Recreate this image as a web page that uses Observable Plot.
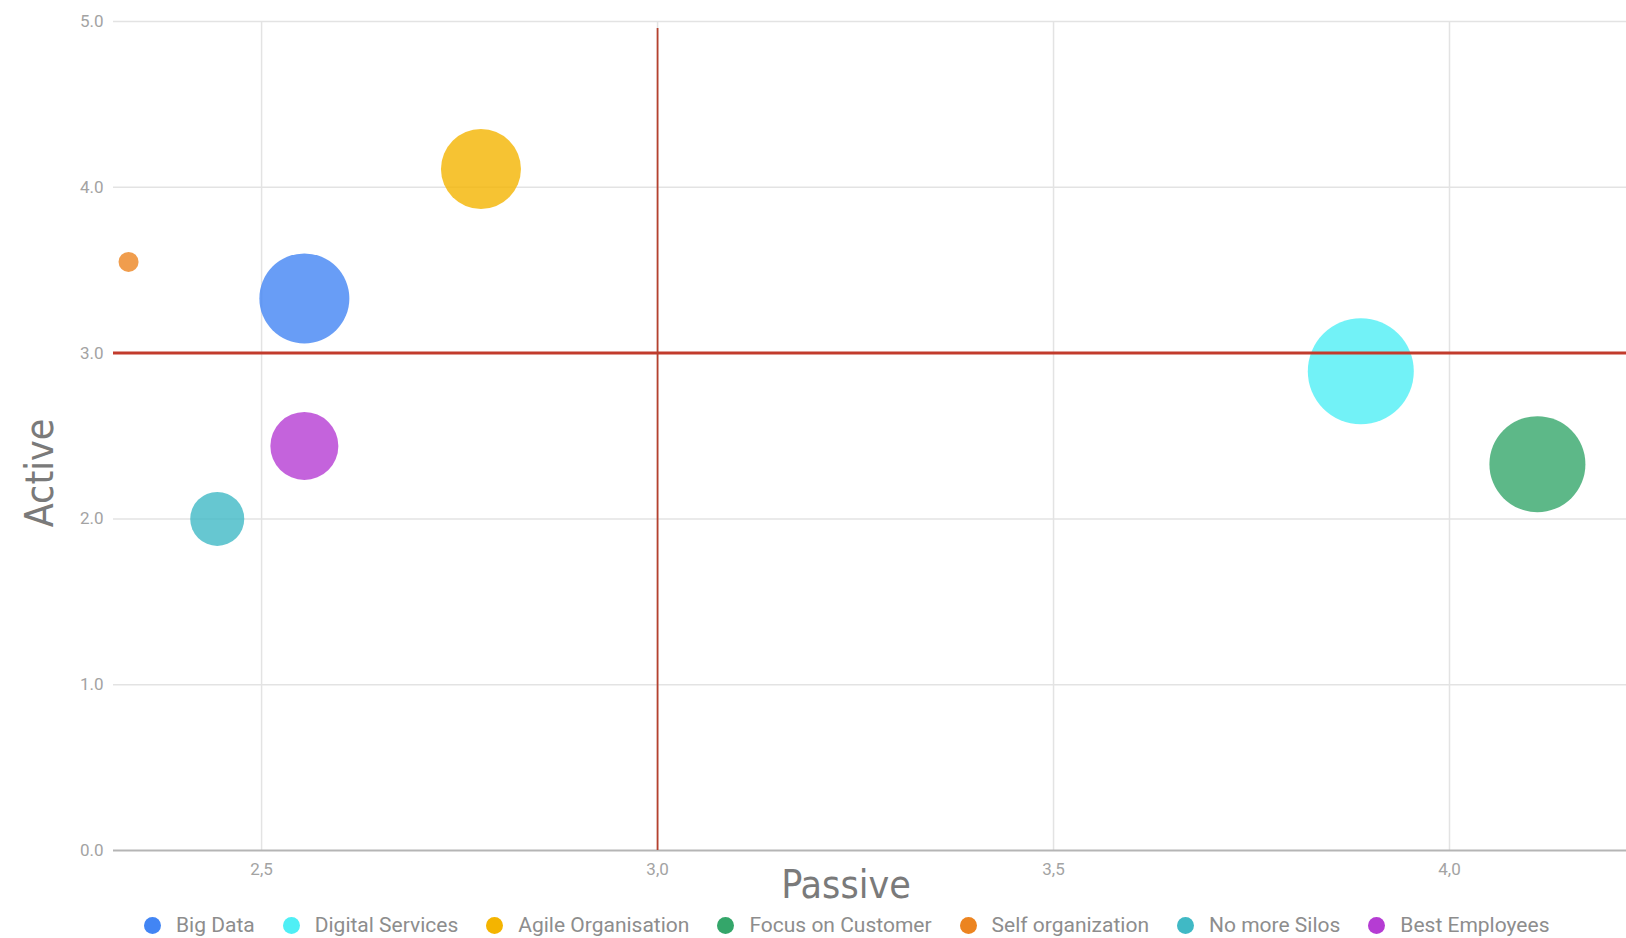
<!DOCTYPE html>
<html>
<head>
<meta charset="utf-8">
<script src="https://cdn.jsdelivr.net/npm/d3@7"></script>
<script src="https://cdn.jsdelivr.net/npm/@observablehq/plot@0.6"></script>
<style>
  html, body { margin: 0; padding: 0; background: #fff; overflow: hidden; }
  #chart svg { display: block; }
  #legend { display: flex; align-items: center; height: 30px; padding-top: 5px; padding-left: 144px;
            font-family: Roboto, sans-serif; font-size: 21px; color: #8d8d8d; white-space: nowrap; }
  .item { display: flex; align-items: center; margin-right: 28px; }
  .dot { width: 17px; height: 17px; border-radius: 50%; margin-right: 15px; flex: none; }
</style>
</head>
<body>
<div id="chart"></div>
<div id="legend"></div>
<script>
// ---- data ----
const names   = ["Big Data", "Digital Services", "Agile Organisation", "Focus on Customer", "Self organization", "No more Silos", "Best Employees"];
const passive = [2.554, 3.888, 2.777, 4.111, 2.332, 2.444, 2.554];
const active  = [3.33, 2.89, 4.11, 2.33, 3.55, 2.00, 2.44];
const bubble  = [45, 53, 40, 48, 10, 27, 34];
const colors  = ["#4285F4", "#4FEFF5", "#F4B400", "#34A66A", "#EC8420", "#40B9C5", "#B53CD3"];
const xTicks  = [2.5, 3.0, 3.5, 4.0];
const yTicks  = [0, 1, 2, 3, 4, 5];
const passiveThreshold = [3.0];
const activeThreshold  = [3.0];
const xDomain = [2.313, 4.2235];
const yDomain = [0, 5];

const data = names.map((n, i) => ({name: n, passive: passive[i], active: active[i], size: bubble[i]}));

const titleFont = "'Liberation Sans Narrow', 'DejaVu Sans Condensed', 'Roboto Condensed', 'Arial Narrow', sans-serif";

const chart = Plot.plot({
  width: 1626,
  height: 905,
  marginLeft: 113,
  marginRight: 0,
  marginTop: 21,
  marginBottom: 55,
  style: {fontFamily: "Roboto, sans-serif", background: "white", overflow: "visible"},
  x: {domain: xDomain},
  y: {domain: yDomain},
  r: {type: "linear", domain: [0, d3.max(bubble)], range: [0, 53]},
  color: {domain: names, range: colors},
  marks: [
    Plot.gridY(yTicks.filter(d => d > 0), {stroke: "#e3e3e3", strokeOpacity: 1, strokeWidth: 1.5}),
    Plot.gridX(xTicks, {stroke: "#e3e3e3", strokeOpacity: 1, strokeWidth: 1.5}),
    Plot.ruleY([0], {stroke: "#b5b5b5", strokeWidth: 2}),
    Plot.axisY(yTicks, {tickFormat: d => d.toFixed(1), tickSize: 0, tickPadding: 10, fontSize: 17, color: "#a3a3a3", label: null}),
    Plot.axisX(xTicks, {tickFormat: d => d.toFixed(1).replace(".", ","), tickSize: 0, tickPadding: 12, fontSize: 17, color: "#a3a3a3", label: null}),
    Plot.dot(data, {x: "passive", y: "active", r: "size", fill: "name", fillOpacity: 0.8, stroke: null}),
    Plot.ruleY(activeThreshold, {stroke: "#c23b2c", strokeWidth: 3}),
    Plot.ruleX(passiveThreshold, {stroke: "#b5412f", strokeWidth: 1.8, insetTop: 7}),
    Plot.text(["Active"], {frameAnchor: "left", textAnchor: "middle", rotate: -90, dx: -61, dy: 37, lineAnchor: "bottom",
      fontSize: 39, fontFamily: titleFont, fill: "#7a7a7a"}),
    Plot.text(["Passive"], {frameAnchor: "bottom", textAnchor: "middle", dx: -24, dy: 47, lineAnchor: "bottom",
      fontSize: 39, fontFamily: titleFont, fill: "#7a7a7a"})
  ]
});
document.getElementById("chart").appendChild(chart);

const legend = document.getElementById("legend");
names.forEach((n, i) => {
  const item = document.createElement("div");
  item.className = "item";
  const dot = document.createElement("span");
  dot.className = "dot";
  dot.style.background = colors[i];
  const label = document.createElement("span");
  label.textContent = n;
  item.appendChild(dot);
  item.appendChild(label);
  legend.appendChild(item);
});
</script>
</body>
</html>
